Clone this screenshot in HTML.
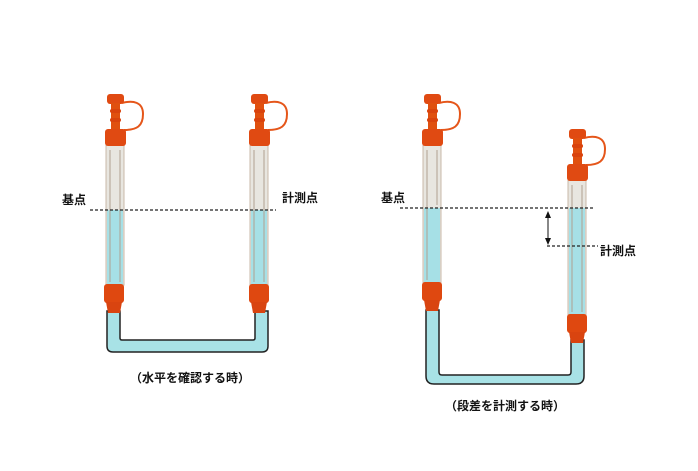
<!DOCTYPE html>
<html><head><meta charset="utf-8"><style>
html,body{margin:0;padding:0;background:#fff;}
svg{display:block;}
text{font-family:"Liberation Sans","Noto Sans CJK JP",sans-serif;font-weight:bold;fill:#111;}
</style></head><body>
<svg width="698" height="471" viewBox="0 0 698 471" xmlns="http://www.w3.org/2000/svg">
<defs>
<g id="cap">
  <path d="M17,9 C28,6 38,8 38,20 C38,32 32,36 19,36" fill="none" stroke="#e5561a" stroke-width="2"/>
  <rect x="2" y="0" width="17" height="10" rx="3" fill="#e04a12"/>
  <rect x="6" y="9" width="9" height="27" fill="#e0500f"/>
  <rect x="5" y="15" width="11" height="4" rx="2" fill="#d9430d"/>
  <rect x="5" y="24" width="11" height="4" rx="2" fill="#d9430d"/>
  <rect x="0" y="35" width="21" height="17" rx="3" fill="#e04a12"/>
</g>
<g id="fit">
  <rect x="0" y="0" width="20" height="19" rx="3" fill="#df4810"/>
  <path d="M2,18 L18,18 L16,29 L4,29 Z" fill="#d94410"/>
</g>
</defs>

<!-- LEFT DIAGRAM -->
<!-- U pipe -->
<path d="M107,311 L107,346 Q107,352 113,352 L262,352 Q268,352 268,346 L268,311 L255,311 L255,338 Q255,340 253,340 L122,340 Q120,340 120,338 L120,311 Z" fill="#a8e2e6" stroke="#222" stroke-width="1.5"/>
<!-- tube A -->
<rect x="106" y="145" width="18" height="140" fill="#e8e6e0" stroke="#c8b8a8" stroke-width="1"/>
<rect x="107" y="210" width="16" height="75" fill="#a6e0e6"/>
<g stroke="#b0a090" stroke-width="1">
<line x1="110" y1="150" x2="110" y2="282"/><line x1="120" y1="150" x2="120" y2="282"/>
</g>
<use href="#cap" x="105" y="94"/>
<use href="#fit" x="104" y="284"/>
<!-- tube B -->
<rect x="250" y="145" width="18" height="140" fill="#e8e6e0" stroke="#c8b8a8" stroke-width="1"/>
<rect x="251" y="210" width="16" height="75" fill="#a6e0e6"/>
<g stroke="#b0a090" stroke-width="1">
<line x1="254" y1="150" x2="254" y2="282"/><line x1="264" y1="150" x2="264" y2="282"/>
</g>
<use href="#cap" x="249" y="94"/>
<use href="#fit" x="249" y="284"/>
<line x1="90" y1="210" x2="276" y2="210" stroke="#222" stroke-width="1.2" stroke-dasharray="3,2"/>
<text x="62" y="204" font-size="12">基点</text>
<text x="282" y="202" font-size="12">計測点</text>
<text x="190" y="382" font-size="12" text-anchor="middle">（水平を確認する時）</text>

<!-- RIGHT DIAGRAM -->
<path d="M426,310 L426,376 Q426,384 434,384 L576,384 Q584,384 584,376 L584,340 L571,340 L571,372 Q571,375 568,375 L442,375 Q439,375 439,372 L439,310 Z" fill="#a8e2e6" stroke="#222" stroke-width="1.5"/>
<!-- tube C -->
<rect x="423" y="145" width="18" height="138" fill="#e8e6e0" stroke="#c8b8a8" stroke-width="1"/>
<rect x="424" y="208" width="16" height="75" fill="#a6e0e6"/>
<g stroke="#b0a090" stroke-width="1">
<line x1="427" y1="150" x2="427" y2="280"/><line x1="437" y1="150" x2="437" y2="205"/>
</g>
<use href="#cap" x="422" y="94"/>
<use href="#fit" x="422" y="282"/>
<!-- tube D -->
<rect x="568" y="180" width="18" height="136" fill="#e8e6e0" stroke="#c8b8a8" stroke-width="1"/>
<rect x="569" y="208" width="16" height="108" fill="#a6e0e6"/>
<g stroke="#b0a090" stroke-width="1">
<line x1="572" y1="185" x2="572" y2="312"/><line x1="582" y1="185" x2="582" y2="312"/>
</g>
<use href="#cap" x="567" y="129"/>
<use href="#fit" x="567" y="314"/>
<line x1="400" y1="208" x2="594" y2="208" stroke="#222" stroke-width="1.2" stroke-dasharray="3,2"/>
<line x1="547" y1="246" x2="598" y2="246" stroke="#222" stroke-width="1.2" stroke-dasharray="3,2"/>
<line x1="548" y1="214" x2="548" y2="242" stroke="#111" stroke-width="1"/>
<path d="M545,218 L548,211 L551,218 Z" fill="#111"/>
<path d="M545,238 L548,245 L551,238 Z" fill="#111"/>
<text x="381" y="202" font-size="12">基点</text>
<text x="600" y="255" font-size="12">計測点</text>
<text x="505" y="410" font-size="12" text-anchor="middle">（段差を計測する時）</text>
</svg>
</body></html>
